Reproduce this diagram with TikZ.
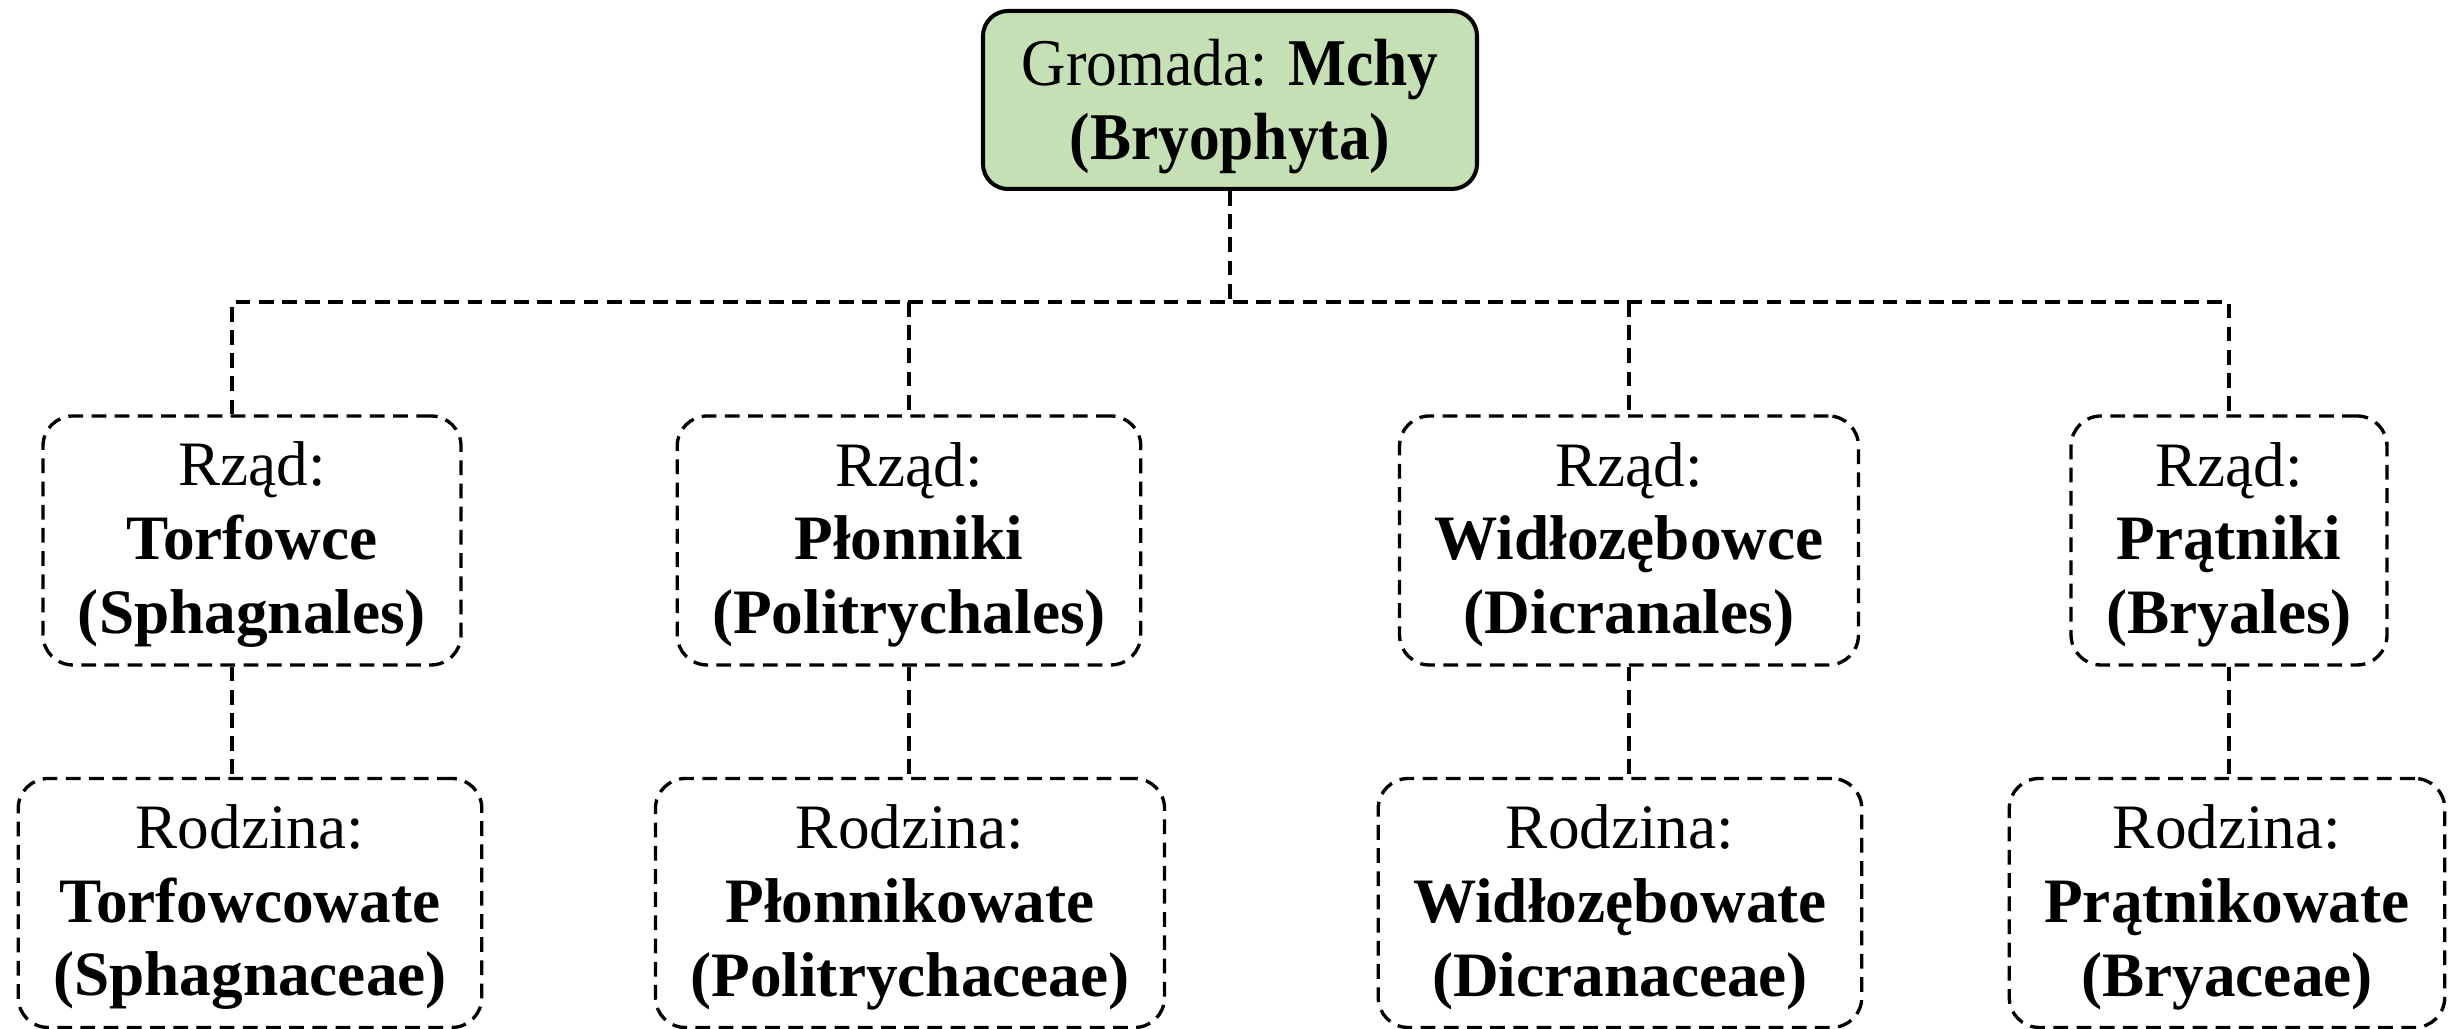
\documentclass[tikz,border=0pt]{standalone}
\usepackage{fontspec}
\setmainfont{Liberation Serif}
\newfontfamily\phylumfont[FakeStretch=0.92]{Liberation Serif}
\usetikzlibrary{calc}
\usepackage{xcolor}
\definecolor{mossgreen}{HTML}{C5E0B4}
\newcommand{\phylumsize}{\phylumfont\fontsize{19}{21}\selectfont}
\newcommand{\lifttop}{\rule{0pt}{16.9pt}}
\newcommand{\liftrow}{\rule{0pt}{14.9pt}}
\tikzset{
    phylum/.style={draw, line width=1.15pt, fill=mossgreen, rounded corners=2.5mm, align=center, font=\phylumsize, inner xsep=3.5mm, inner ysep=0pt, minimum width=49.4mm, minimum height=17.8mm},
    taxon/.style={draw, line width=0.95pt, dash pattern=on 4.2pt off 2.4pt, rounded corners=3mm, align=center, font=\fontsize{18}{21}\selectfont, inner xsep=3.5mm, inner ysep=0pt, minimum height=24.9mm},
    link/.style={line width=0.95pt, dash pattern=on 4.2pt off 2.4pt}
}

\begin{document}
\begin{tikzpicture}
    \useasboundingbox (0,0) rectangle (24.53,10.29);
    \node[phylum] (mchy) at (12.30,9.29) {\lifttop Gromada: \textbf{Mchy}\\\textbf{(Bryophyta)}};
    \coordinate (hub) at (12.30,7.27);
    \node[taxon] (torf) at (2.52,4.885) {\liftrow Rząd:\\\textbf{Torfowce}\\\textbf{(Sphagnales)}};
    \node[taxon] (plon) at (9.09,4.885) {\liftrow Rząd:\\\textbf{Płonniki}\\\textbf{(Politrychales)}};
    \node[taxon] (widl) at (16.29,4.885) {\liftrow Rząd:\\\textbf{Widłozębowce}\\\textbf{(Dicranales)}};
    \node[taxon] (prat) at (22.29,4.885) {\liftrow Rząd:\\\textbf{Prątniki}\\\textbf{(Bryales)}};
    \node[taxon] (torfr) at (2.50,1.26) {\liftrow Rodzina:\\\textbf{Torfowcowate}\\\textbf{(Sphagnaceae)}};
    \node[taxon] (plonr) at (9.10,1.26) {\liftrow Rodzina:\\\textbf{Płonnikowate}\\\textbf{(Politrychaceae)}};
    \node[taxon] (widlr) at (16.20,1.26) {\liftrow Rodzina:\\\textbf{Widłozębowate}\\\textbf{(Dicranaceae)}};
    \node[taxon] (pratr) at (22.27,1.26) {\liftrow Rodzina:\\\textbf{Prątnikowate}\\\textbf{(Bryaceae)}};
    \draw[link] (mchy.south) -- (hub);
    \draw[link] ([xshift=-2mm]torf.north) |- (prat.north |- hub) -- (prat.north);
    \draw[link] (plon.north |- hub) -- (plon.north);
    \draw[link] (widl.north |- hub) -- (widl.north);
    \draw[link] ([xshift=-2mm]torf.south) -- ([xshift=-2mm]torf.south |- torfr.north);
    \draw[link] (plon.south) -- (plon.south |- plonr.north);
    \draw[link] (widl.south) -- (widl.south |- widlr.north);
    \draw[link] (prat.south) -- (prat.south |- pratr.north);
\end{tikzpicture}
\end{document}
